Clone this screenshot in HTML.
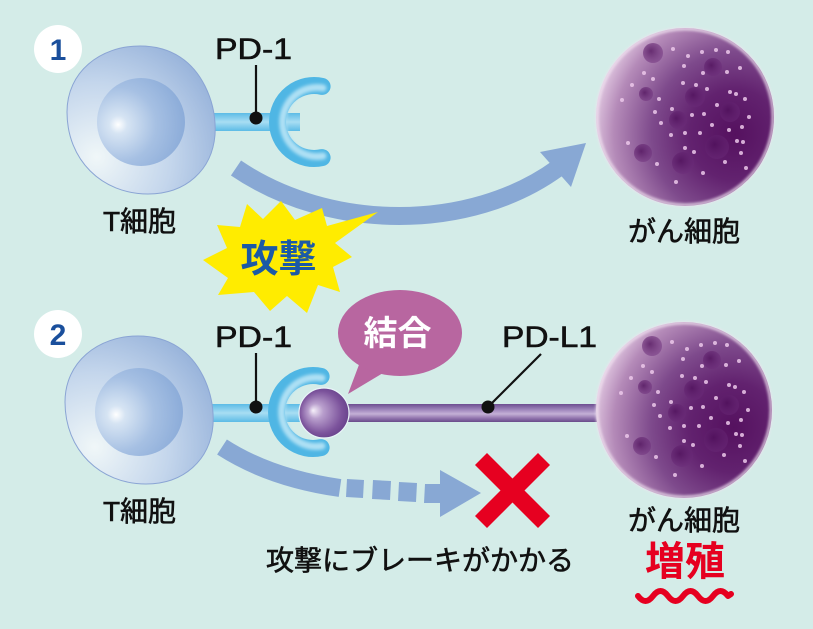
<!DOCTYPE html>
<html><head><meta charset="utf-8"><style>
html,body{margin:0;padding:0;background:#d4ece8;}
svg{display:block;}
text{font-family:"Liberation Sans","Noto Sans CJK JP",sans-serif;}
.lb{stroke:#111;stroke-width:0.6;}
</style></head><body>
<svg width="813" height="629" viewBox="0 0 813 629" xmlns="http://www.w3.org/2000/svg">
<defs>
  <radialGradient id="tcell" cx="0.2" cy="0.75" r="1">
    <stop offset="0" stop-color="#f0f7f8"/>
    <stop offset="0.5" stop-color="#c4d6ec"/>
    <stop offset="1" stop-color="#8caad6"/>
  </radialGradient>
  <radialGradient id="nuc" cx="0.25" cy="0.53" r="0.85" fx="0.24" fy="0.53">
    <stop offset="0" stop-color="#ffffff"/>
    <stop offset="0.12" stop-color="#d6e4f3"/>
    <stop offset="0.5" stop-color="#a6c0e3"/>
    <stop offset="1" stop-color="#84a6d6"/>
  </radialGradient>
  <linearGradient id="stalk" x1="0" y1="0" x2="0" y2="1">
    <stop offset="0" stop-color="#5cbbe6"/>
    <stop offset="0.5" stop-color="#a8def3"/>
    <stop offset="1" stop-color="#5cbbe6"/>
  </linearGradient>
  <radialGradient id="cancer" cx="0.78" cy="0.6" r="0.85">
    <stop offset="0" stop-color="#55115f"/>
    <stop offset="0.3" stop-color="#62226f"/>
    <stop offset="0.55" stop-color="#7e4a8c"/>
    <stop offset="0.8" stop-color="#b48ab8"/>
    <stop offset="0.95" stop-color="#e2cae2"/>
    <stop offset="1" stop-color="#f0e2f0"/>
  </radialGradient>
  <radialGradient id="ball" cx="0.5" cy="0.5" r="0.6" fx="0.28" fy="0.45">
    <stop offset="0" stop-color="#f6f0fa"/>
    <stop offset="0.25" stop-color="#b99fcd"/>
    <stop offset="0.7" stop-color="#7c539c"/>
    <stop offset="1" stop-color="#5c3882"/>
  </radialGradient>
  <linearGradient id="rod" x1="0" y1="0" x2="0" y2="1">
    <stop offset="0" stop-color="#6c4d90"/>
    <stop offset="0.35" stop-color="#a48cc0"/>
    <stop offset="0.55" stop-color="#c4b0d6"/>
    <stop offset="0.8" stop-color="#8f72ac"/>
    <stop offset="1" stop-color="#684a8a"/>
  </linearGradient>
  <radialGradient id="blob" cx="0.4" cy="0.4" r="0.6">
    <stop offset="0" stop-color="#4e0f5a" stop-opacity="0.75"/>
    <stop offset="1" stop-color="#6a2a78" stop-opacity="0.45"/>
  </radialGradient>
  <filter id="soft" x="-10%" y="-10%" width="120%" height="120%">
    <feGaussianBlur stdDeviation="1.3"/>
  </filter>
  <filter id="soft2" x="-20%" y="-20%" width="140%" height="140%">
    <feGaussianBlur stdDeviation="1.5"/>
  </filter>
  <g id="tc">
    <path d="M 67,112 C 67,72 100,46 140,46 C 172,46 193,62 205,86 C 213,102 216,118 215,135 C 212,170 186,194 148,194 C 102,194 67,160 67,112 Z" fill="url(#tcell)" stroke="#8aa4d4" stroke-width="1"/>
    <circle cx="141" cy="122" r="44" fill="url(#nuc)"/>
  </g>
  <g id="cshape">
    <path d="M 322.1,86.4 A 36.5,36.5 0 1 0 322.1,157.6" fill="none" stroke="#4fb6e4" stroke-width="17" stroke-linecap="round"/>
    <path d="M 323,88 A 34.5,34.5 0 1 0 323,156" fill="none" stroke="#aee0f4" stroke-width="7" stroke-linecap="round" filter="url(#soft2)"/>
  </g>
  <g id="spots">
    <g fill="url(#blob)">
      <circle cx="653" cy="53" r="10"/>
      <circle cx="713" cy="67" r="9"/>
      <circle cx="646" cy="94" r="7"/>
      <circle cx="695" cy="97" r="10"/>
      <circle cx="730" cy="112" r="10"/>
      <circle cx="678" cy="120" r="9"/>
      <circle cx="643" cy="153" r="9"/>
      <circle cx="717" cy="147" r="12"/>
      <circle cx="683" cy="163" r="11"/>
    </g>
    <g fill="#ecc8ea" opacity="0.85">
      <circle cx="673" cy="49" r="2"/><circle cx="688" cy="56" r="2"/><circle cx="702" cy="52" r="2"/>
      <circle cx="716" cy="50" r="2"/><circle cx="728" cy="52" r="2"/><circle cx="684" cy="66" r="2"/>
      <circle cx="740" cy="68" r="2"/><circle cx="727" cy="72" r="2"/><circle cx="703" cy="73" r="2"/>
      <circle cx="644" cy="73" r="2"/><circle cx="653" cy="79" r="2"/><circle cx="683" cy="83" r="2"/>
      <circle cx="696" cy="85" r="2"/><circle cx="707" cy="89" r="2"/><circle cx="730" cy="92" r="2"/>
      <circle cx="736" cy="94" r="2"/><circle cx="745" cy="99" r="2"/><circle cx="632" cy="85" r="2"/>
      <circle cx="659" cy="99" r="2"/><circle cx="622" cy="100" r="2"/><circle cx="717" cy="105" r="2"/>
      <circle cx="672" cy="109" r="2"/><circle cx="655" cy="112" r="2"/><circle cx="692" cy="115" r="2"/>
      <circle cx="704" cy="114" r="2"/><circle cx="749" cy="117" r="2"/><circle cx="661" cy="123" r="2"/>
      <circle cx="712" cy="125" r="2"/><circle cx="742" cy="127" r="2"/><circle cx="729" cy="130" r="2"/>
      <circle cx="671" cy="135" r="2"/><circle cx="685" cy="133" r="2"/><circle cx="700" cy="133" r="2"/>
      <circle cx="628" cy="143" r="2"/><circle cx="737" cy="141" r="2"/><circle cx="743" cy="142" r="2"/>
      <circle cx="685" cy="148" r="2"/><circle cx="694" cy="152" r="2"/><circle cx="741" cy="153" r="2"/>
      <circle cx="725" cy="162" r="2"/><circle cx="657" cy="164" r="2"/><circle cx="746" cy="168" r="2"/>
      <circle cx="703" cy="173" r="2"/><circle cx="676" cy="182" r="2"/>
    </g>
  </g>
</defs>

<rect x="0" y="0" width="813" height="629" fill="#d4ece8"/>

<!-- badges -->
<circle cx="58" cy="49" r="24" fill="#ffffff"/>
<text x="58" y="60" text-anchor="middle" font-size="30" font-weight="700" fill="#1a4f9c">1</text>
<circle cx="58" cy="334" r="24" fill="#ffffff"/>
<text x="58" y="345" text-anchor="middle" font-size="30" font-weight="700" fill="#1a4f9c">2</text>

<!-- ===== Section 1 ===== -->
<rect x="208" y="113" width="92" height="18" fill="url(#stalk)"/>
<use href="#tc"/>
<use href="#cshape"/>
<line x1="256" y1="65" x2="256" y2="118" stroke="#111" stroke-width="2.2"/>
<circle cx="256" cy="118" r="6.5" fill="#111"/>
<text class="lb" x="253.5" y="59" text-anchor="middle" font-size="30" fill="#111" textLength="77" lengthAdjust="spacingAndGlyphs">PD-1</text>
<text class="lb" x="139.5" y="231" text-anchor="middle" font-size="28" fill="#111">T細胞</text>

<!-- arrow 1 -->
<path d="M 236,168 C 330,232 470,232 558,168" fill="none" stroke="#88a8d4" stroke-width="18"/>
<polygon points="540,152 586,143 571,187" fill="#88a8d4"/>

<!-- star -->
<polygon points="247,204 263,219 281,201 295,220 322,208 327,226 378,212 335,243 352,257 333,267 340,292 318,285 307,313 287,296 270,311 254,292 218,295 228,278 203,260 227,248 217,225 240,227" fill="#ffec00"/>
<text x="278.5" y="272" text-anchor="middle" font-size="38" font-weight="700" fill="#1b5aa6">攻撃</text>

<!-- cancer cell 1 -->
<circle cx="685" cy="117" r="89" fill="url(#cancer)"/>
<circle cx="685" cy="117" r="88" fill="none" stroke="#f0e2f0" stroke-width="3" opacity="0.8" filter="url(#soft)"/>
<use href="#spots"/>
<text class="lb" x="684" y="241" text-anchor="middle" font-size="28" fill="#111">がん細胞</text>

<!-- ===== Section 2 ===== -->
<rect x="206" y="404" width="94" height="18" fill="url(#stalk)"/>
<use href="#tc" transform="translate(-2,290)"/>
<rect x="340" y="404" width="262" height="18" fill="url(#rod)"/>
<use href="#cshape" transform="translate(-1,290)"/>
<circle cx="324" cy="413" r="25" fill="url(#ball)" stroke="#e8f4f8" stroke-width="1.2"/>
<line x1="256" y1="353" x2="256" y2="407" stroke="#111" stroke-width="2.2"/>
<circle cx="256" cy="407" r="6.5" fill="#111"/>
<text class="lb" x="253.5" y="347" text-anchor="middle" font-size="30" fill="#111" textLength="77" lengthAdjust="spacingAndGlyphs">PD-1</text>
<text class="lb" x="139.5" y="521" text-anchor="middle" font-size="28" fill="#111">T細胞</text>

<!-- PD-L1 label -->
<line x1="541" y1="354" x2="488" y2="407" stroke="#111" stroke-width="2.2"/>
<circle cx="488" cy="407" r="6.5" fill="#111"/>
<text class="lb" x="549.5" y="347" text-anchor="middle" font-size="30" fill="#111" textLength="95" lengthAdjust="spacingAndGlyphs">PD-L1</text>

<!-- bubble -->
<polygon points="360,362 348,394 388,370" fill="#b866a0"/>
<ellipse cx="400" cy="333" rx="62" ry="43" fill="#b866a0"/>
<text x="397.5" y="345" text-anchor="middle" font-size="34" font-weight="700" fill="#ffffff">結合</text>

<!-- cancer cell 2 -->
<circle cx="684" cy="410" r="88" fill="url(#cancer)"/>
<circle cx="684" cy="410" r="87" fill="none" stroke="#f0e2f0" stroke-width="3" opacity="0.8" filter="url(#soft)"/>
<use href="#spots" transform="translate(-1,293)"/>
<text class="lb" x="684" y="530" text-anchor="middle" font-size="28" fill="#111">がん細胞</text>

<!-- arrow 2 -->
<path d="M 222,447 Q 270,478 340,488" fill="none" stroke="#88a8d4" stroke-width="18"/>
<polygon points="347,479 364,480 363,498 346,497" fill="#88a8d4"/>
<polygon points="373,480 391,481 390,500 372,499" fill="#88a8d4"/>
<polygon points="399,482 417,483 416,502 398,501" fill="#88a8d4"/>
<polygon points="425,484 441,484 441,503 424,503" fill="#88a8d4"/>
<polygon points="440,470 481,493 440,517" fill="#88a8d4"/>

<!-- red X -->
<line x1="481" y1="459" x2="544" y2="522" stroke="#e60020" stroke-width="17"/>
<line x1="544" y1="459" x2="481" y2="522" stroke="#e60020" stroke-width="17"/>

<text class="lb" x="420" y="570" text-anchor="middle" font-size="28" fill="#111">攻撃にブレーキがかかる</text>

<!-- 増殖 -->
<text x="685" y="575" text-anchor="middle" font-size="40" font-weight="700" fill="#e60020">増殖</text>
<path d="M 638,596 q 7.5,10 15,0 t 15,0 t 15,0 t 15,0 t 15,0 t 15,0 l 3,-2" fill="none" stroke="#e60020" stroke-width="6" stroke-linecap="round" stroke-linejoin="round"/>
</svg>
</body></html>
